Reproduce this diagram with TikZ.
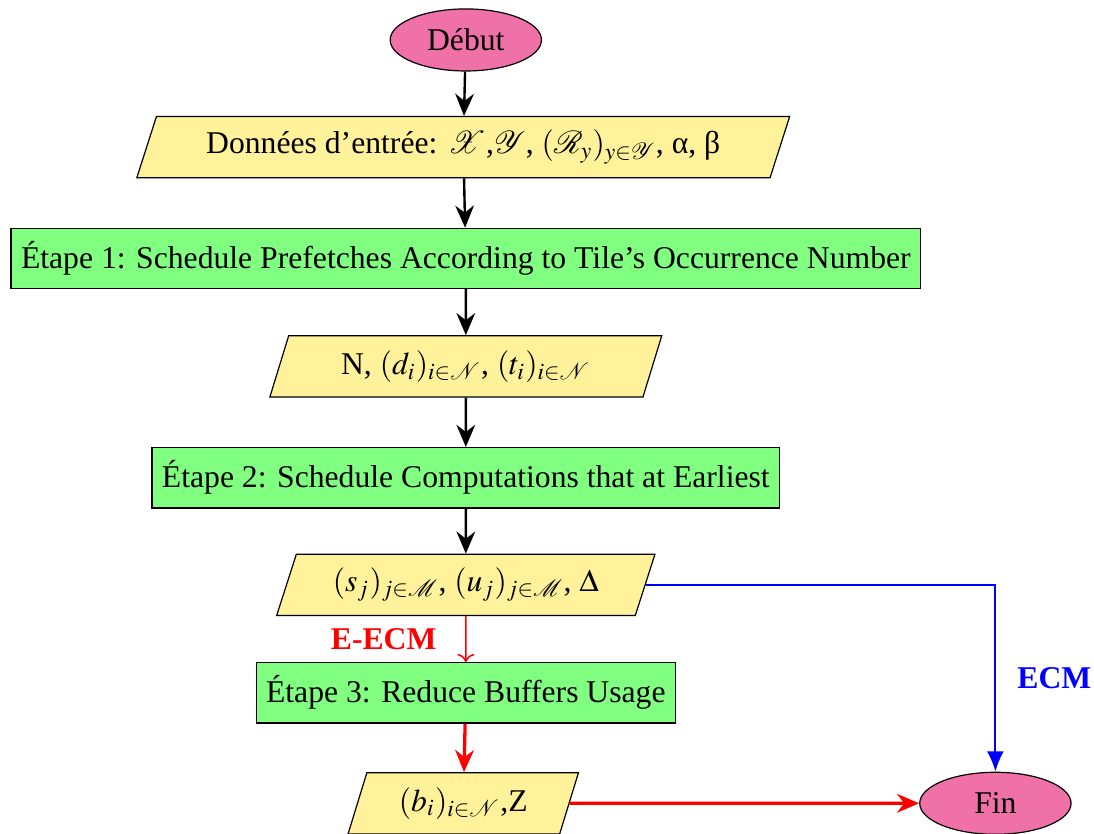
\documentclass[tikz,border=0pt]{standalone}
\usepackage{mathptmx}
\usepackage{fontspec}
\setmainfont{Liberation Serif}
\usepackage{xcolor}
\usetikzlibrary{arrows.meta,shapes.geometric}

\definecolor{startpink}{RGB}{240,112,168}
\definecolor{datayellow}{RGB}{255,242,155}
\definecolor{stepgreen}{RGB}{128,255,128}

\begin{document}
\begin{tikzpicture}[
    every node/.style={font=\fontsize{10.6pt}{12.7pt}\selectfont},
    terminal/.style={draw, ellipse, fill=startpink, minimum width=1.78cm, minimum height=0.73cm},
    iodata/.style={draw, trapezium, trapezium left angle=70, trapezium right angle=110,
        trapezium stretches body, fill=datayellow, minimum height=0.72cm},
    stepbox/.style={draw, rectangle, fill=stepgreen, minimum height=0.71cm},
    flow/.style={-{Stealth[length=2.6mm,width=2.2mm]}, line width=0.8pt},
    lbl/.style={font=\fontsize{10.6pt}{12.7pt}\selectfont\bfseries}
]
    \useasboundingbox (0,0) rectangle (12.87,-9.81);
    % States
    \node[terminal] (debut) at (5.48,-0.47) {Début};
    \node[iodata, minimum width=7.68cm] (donnees) at (5.45,-1.73)
        {Données d’entrée: $\mathcal{X}$,$\mathcal{Y}$, $(\mathcal{R}_y)_{y\in\mathcal{Y}}$, α, β};
    \node[stepbox] (etape1) at (5.48,-3.04)
        {Étape 1: Schedule Prefetches According to Tile’s Occurrence Number};
    \node[iodata, minimum width=4.61cm] (dt) at (5.48,-4.31)
        {N, $(d_i)_{i\in\mathcal{N}}$, $(t_i)_{i\in\mathcal{N}}$};
    \node[stepbox] (etape2) at (5.48,-5.62)
        {Étape 2: Schedule Computations that at Earliest};
    \node[iodata, minimum width=4.45cm] (su) at (5.48,-6.88)
        {$(s_j)_{j\in\mathcal{M}}$, $(u_j)_{j\in\mathcal{M}}$, $\Delta$};
    \node[stepbox] (etape3) at (5.48,-8.15)
        {Étape 3: Reduce Buffers Usage};
    \node[iodata, minimum width=2.71cm] (bz) at (5.45,-9.45)
        {$(b_i)_{i\in\mathcal{N}}$,Z};
    \node[terminal] (fin) at (11.71,-9.45) {Fin};
    % Edges
    \draw[flow] (debut) -- (donnees);
    \draw[flow] (donnees) -- (etape1);
    \draw[flow] (etape1) -- (dt);
    \draw[flow] (dt) -- (etape2);
    \draw[flow] (etape2) -- (su);
    % E-ECM branch
    \draw[->, red, line width=0.5pt] (su) -- (etape3)
        node[midway, left=0.22cm, lbl] (eecm) {E-ECM};
    \draw[flow, red, line width=1.1pt] (etape3) -- (bz);
    \draw[flow, red, line width=1.1pt] (bz) -- (fin);
    % ECM branch
    \draw[-{Latex[length=2.4mm,width=2mm]}, blue, line width=0.7pt] (su.east) -| (fin.north)
        node[pos=0.75, right=0.13cm, lbl] (ecm) {ECM};
\end{tikzpicture}
\end{document}
